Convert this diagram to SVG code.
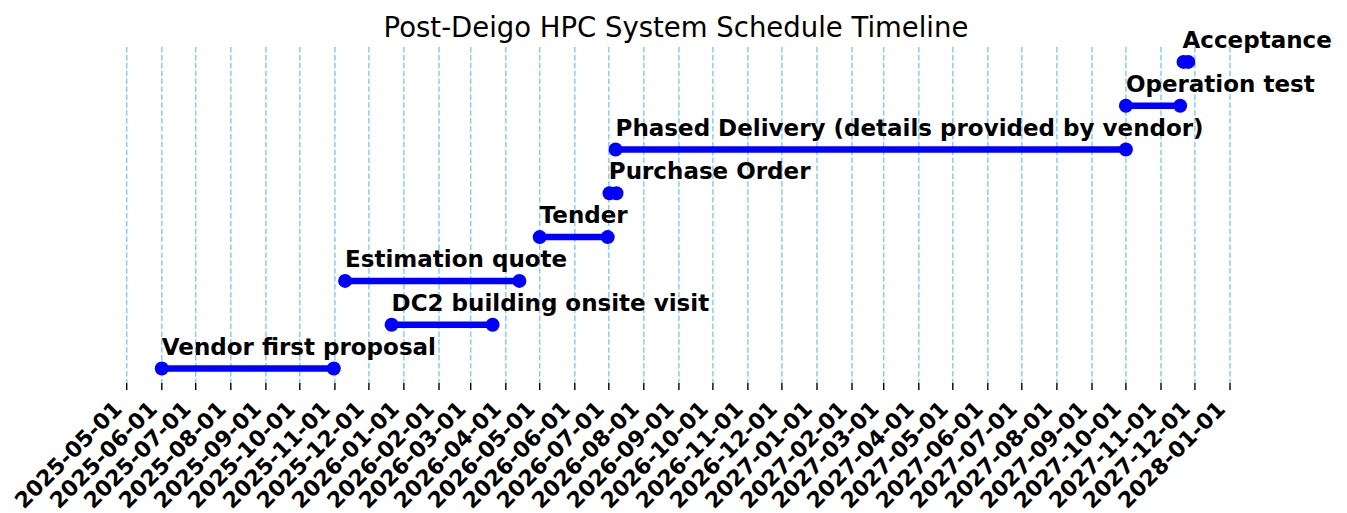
<svg xmlns="http://www.w3.org/2000/svg" width="1347" height="513" viewBox="0 0 1347 513">
  <defs>
    <style>
      .title { font-family: "DejaVu Sans", sans-serif; font-size: 27.5px; fill: #000; }
      .grid line { stroke: #87ceeb; stroke-width: 1.5; stroke-dasharray: 5.5 2.4; }
      .ticks line { stroke: #000; stroke-width: 1.4; }
      .ticklabel { font-family: "DejaVu Sans", sans-serif; font-weight: bold; font-size: 22px; fill: #000; text-anchor: end; }
      .bar { stroke: #0000ff; stroke-width: 6.5; stroke-linecap: butt; }
      .dot { fill: #0000ff; }
      .label { font-family: "DejaVu Sans", sans-serif; font-weight: bold; font-size: 23px; fill: #000; }
    </style>
  </defs>

  <rect width="1347" height="513" fill="#fff"/>

  <text class="title" x="676" y="37" text-anchor="middle">Post-Deigo HPC System Schedule Timeline</text>

  <!-- monthly grid lines -->
  <g class="grid">
    <line x1="126.7" y1="47" x2="126.7" y2="383"/>
    <line x1="161.8" y1="47" x2="161.8" y2="383"/>
    <line x1="195.7" y1="47" x2="195.7" y2="383"/>
    <line x1="230.8" y1="47" x2="230.8" y2="383"/>
    <line x1="265.9" y1="47" x2="265.9" y2="383"/>
    <line x1="299.8" y1="47" x2="299.8" y2="383"/>
    <line x1="334.9" y1="47" x2="334.9" y2="383"/>
    <line x1="368.9" y1="47" x2="368.9" y2="383"/>
    <line x1="403.9" y1="47" x2="403.9" y2="383"/>
    <line x1="439.0" y1="47" x2="439.0" y2="383"/>
    <line x1="470.7" y1="47" x2="470.7" y2="383"/>
    <line x1="505.8" y1="47" x2="505.8" y2="383"/>
    <line x1="539.7" y1="47" x2="539.7" y2="383"/>
    <line x1="574.8" y1="47" x2="574.8" y2="383"/>
    <line x1="608.8" y1="47" x2="608.8" y2="383"/>
    <line x1="643.8" y1="47" x2="643.8" y2="383"/>
    <line x1="678.9" y1="47" x2="678.9" y2="383"/>
    <line x1="712.9" y1="47" x2="712.9" y2="383"/>
    <line x1="747.9" y1="47" x2="747.9" y2="383"/>
    <line x1="781.9" y1="47" x2="781.9" y2="383"/>
    <line x1="817.0" y1="47" x2="817.0" y2="383"/>
    <line x1="852.0" y1="47" x2="852.0" y2="383"/>
    <line x1="883.7" y1="47" x2="883.7" y2="383"/>
    <line x1="918.8" y1="47" x2="918.8" y2="383"/>
    <line x1="952.8" y1="47" x2="952.8" y2="383"/>
    <line x1="987.8" y1="47" x2="987.8" y2="383"/>
    <line x1="1021.8" y1="47" x2="1021.8" y2="383"/>
    <line x1="1056.9" y1="47" x2="1056.9" y2="383"/>
    <line x1="1092.0" y1="47" x2="1092.0" y2="383"/>
    <line x1="1125.9" y1="47" x2="1125.9" y2="383"/>
    <line x1="1161.0" y1="47" x2="1161.0" y2="383"/>
    <line x1="1194.9" y1="47" x2="1194.9" y2="383"/>
    <line x1="1230.0" y1="47" x2="1230.0" y2="383"/>
  </g>

  <!-- x-axis ticks -->
  <g class="ticks">
    <line x1="126.7" y1="383" x2="126.7" y2="390"/>
    <line x1="161.8" y1="383" x2="161.8" y2="390"/>
    <line x1="195.7" y1="383" x2="195.7" y2="390"/>
    <line x1="230.8" y1="383" x2="230.8" y2="390"/>
    <line x1="265.9" y1="383" x2="265.9" y2="390"/>
    <line x1="299.8" y1="383" x2="299.8" y2="390"/>
    <line x1="334.9" y1="383" x2="334.9" y2="390"/>
    <line x1="368.9" y1="383" x2="368.9" y2="390"/>
    <line x1="403.9" y1="383" x2="403.9" y2="390"/>
    <line x1="439.0" y1="383" x2="439.0" y2="390"/>
    <line x1="470.7" y1="383" x2="470.7" y2="390"/>
    <line x1="505.8" y1="383" x2="505.8" y2="390"/>
    <line x1="539.7" y1="383" x2="539.7" y2="390"/>
    <line x1="574.8" y1="383" x2="574.8" y2="390"/>
    <line x1="608.8" y1="383" x2="608.8" y2="390"/>
    <line x1="643.8" y1="383" x2="643.8" y2="390"/>
    <line x1="678.9" y1="383" x2="678.9" y2="390"/>
    <line x1="712.9" y1="383" x2="712.9" y2="390"/>
    <line x1="747.9" y1="383" x2="747.9" y2="390"/>
    <line x1="781.9" y1="383" x2="781.9" y2="390"/>
    <line x1="817.0" y1="383" x2="817.0" y2="390"/>
    <line x1="852.0" y1="383" x2="852.0" y2="390"/>
    <line x1="883.7" y1="383" x2="883.7" y2="390"/>
    <line x1="918.8" y1="383" x2="918.8" y2="390"/>
    <line x1="952.8" y1="383" x2="952.8" y2="390"/>
    <line x1="987.8" y1="383" x2="987.8" y2="390"/>
    <line x1="1021.8" y1="383" x2="1021.8" y2="390"/>
    <line x1="1056.9" y1="383" x2="1056.9" y2="390"/>
    <line x1="1092.0" y1="383" x2="1092.0" y2="390"/>
    <line x1="1125.9" y1="383" x2="1125.9" y2="390"/>
    <line x1="1161.0" y1="383" x2="1161.0" y2="390"/>
    <line x1="1194.9" y1="383" x2="1194.9" y2="390"/>
    <line x1="1230.0" y1="383" x2="1230.0" y2="390"/>
  </g>

  <!-- rotated date labels (end of text sits just left of its tick) -->
  <g class="ticklabels">
    <text class="ticklabel" transform="translate(123.4,410.3) rotate(-45)">2025-05-01</text>
    <text class="ticklabel" transform="translate(158.5,410.3) rotate(-45)">2025-06-01</text>
    <text class="ticklabel" transform="translate(192.4,410.3) rotate(-45)">2025-07-01</text>
    <text class="ticklabel" transform="translate(227.5,410.3) rotate(-45)">2025-08-01</text>
    <text class="ticklabel" transform="translate(262.6,410.3) rotate(-45)">2025-09-01</text>
    <text class="ticklabel" transform="translate(296.5,410.3) rotate(-45)">2025-10-01</text>
    <text class="ticklabel" transform="translate(331.6,410.3) rotate(-45)">2025-11-01</text>
    <text class="ticklabel" transform="translate(365.6,410.3) rotate(-45)">2025-12-01</text>
    <text class="ticklabel" transform="translate(400.6,410.3) rotate(-45)">2026-01-01</text>
    <text class="ticklabel" transform="translate(435.7,410.3) rotate(-45)">2026-02-01</text>
    <text class="ticklabel" transform="translate(467.4,410.3) rotate(-45)">2026-03-01</text>
    <text class="ticklabel" transform="translate(502.5,410.3) rotate(-45)">2026-04-01</text>
    <text class="ticklabel" transform="translate(536.4,410.3) rotate(-45)">2026-05-01</text>
    <text class="ticklabel" transform="translate(571.5,410.3) rotate(-45)">2026-06-01</text>
    <text class="ticklabel" transform="translate(605.5,410.3) rotate(-45)">2026-07-01</text>
    <text class="ticklabel" transform="translate(640.5,410.3) rotate(-45)">2026-08-01</text>
    <text class="ticklabel" transform="translate(675.6,410.3) rotate(-45)">2026-09-01</text>
    <text class="ticklabel" transform="translate(709.6,410.3) rotate(-45)">2026-10-01</text>
    <text class="ticklabel" transform="translate(744.6,410.3) rotate(-45)">2026-11-01</text>
    <text class="ticklabel" transform="translate(778.6,410.3) rotate(-45)">2026-12-01</text>
    <text class="ticklabel" transform="translate(813.7,410.3) rotate(-45)">2027-01-01</text>
    <text class="ticklabel" transform="translate(848.7,410.3) rotate(-45)">2027-02-01</text>
    <text class="ticklabel" transform="translate(880.4,410.3) rotate(-45)">2027-03-01</text>
    <text class="ticklabel" transform="translate(915.5,410.3) rotate(-45)">2027-04-01</text>
    <text class="ticklabel" transform="translate(949.5,410.3) rotate(-45)">2027-05-01</text>
    <text class="ticklabel" transform="translate(984.5,410.3) rotate(-45)">2027-06-01</text>
    <text class="ticklabel" transform="translate(1018.5,410.3) rotate(-45)">2027-07-01</text>
    <text class="ticklabel" transform="translate(1053.6,410.3) rotate(-45)">2027-08-01</text>
    <text class="ticklabel" transform="translate(1088.7,410.3) rotate(-45)">2027-09-01</text>
    <text class="ticklabel" transform="translate(1122.6,410.3) rotate(-45)">2027-10-01</text>
    <text class="ticklabel" transform="translate(1157.7,410.3) rotate(-45)">2027-11-01</text>
    <text class="ticklabel" transform="translate(1191.6,410.3) rotate(-45)">2027-12-01</text>
    <text class="ticklabel" transform="translate(1226.7,410.3) rotate(-45)">2028-01-01</text>
  </g>

  <!-- task bars -->
  <g id="connectors">
    <line class="bar" x1="161.8" y1="368.5" x2="333.8" y2="368.5"/>
    <line class="bar" x1="391.6" y1="324.7" x2="492.6" y2="324.7"/>
    <line class="bar" x1="345.1" y1="280.9" x2="519.4" y2="280.9"/>
    <line class="bar" x1="539.7" y1="237.1" x2="607.7" y2="237.1"/>
    <line class="bar" x1="609.5" y1="193.3" x2="616.5" y2="193.3"/>
    <line class="bar" x1="615.6" y1="149.5" x2="1125.9" y2="149.5"/>
    <line class="bar" x1="1125.9" y1="105.7" x2="1180.2" y2="105.7"/>
    <line class="bar" x1="1183.5" y1="61.9" x2="1188.3" y2="61.9"/>
  </g>

  <g id="task-vendor-proposal">
    <circle class="dot" cx="161.8" cy="368.5" r="7"/>
    <circle class="dot" cx="333.8" cy="368.5" r="7"/>
    <text class="label" x="161.8" y="354.5">Vendor first proposal</text>
  </g>
  <g id="task-dc2-visit">
    <circle class="dot" cx="391.6" cy="324.7" r="7"/>
    <circle class="dot" cx="492.6" cy="324.7" r="7"/>
    <text class="label" x="391.6" y="310.7">DC2 building onsite visit</text>
  </g>
  <g id="task-estimation-quote">
    <circle class="dot" cx="345.1" cy="280.9" r="7"/>
    <circle class="dot" cx="519.4" cy="280.9" r="7"/>
    <text class="label" x="345.1" y="266.9">Estimation quote</text>
  </g>
  <g id="task-tender">
    <circle class="dot" cx="539.7" cy="237.1" r="7"/>
    <circle class="dot" cx="607.7" cy="237.1" r="7"/>
    <text class="label" x="539.7" y="223.1">Tender</text>
  </g>
  <g id="task-purchase-order">
    <circle class="dot" cx="609.5" cy="193.3" r="7"/>
    <circle class="dot" cx="616.5" cy="193.3" r="7"/>
    <text class="label" x="608.8" y="179.3">Purchase Order</text>
  </g>
  <g id="task-phased-delivery">
    <circle class="dot" cx="615.6" cy="149.5" r="7"/>
    <circle class="dot" cx="1125.9" cy="149.5" r="7"/>
    <text class="label" x="615.6" y="135.5">Phased Delivery (details provided by vendor)</text>
  </g>
  <g id="task-operation-test">
    <circle class="dot" cx="1125.9" cy="105.7" r="7"/>
    <circle class="dot" cx="1180.2" cy="105.7" r="7"/>
    <text class="label" x="1125.9" y="91.7">Operation test</text>
  </g>
  <g id="task-acceptance">
    <circle class="dot" cx="1183.5" cy="61.9" r="7"/>
    <circle class="dot" cx="1188.3" cy="61.9" r="7"/>
    <text class="label" x="1182.5" y="47.9">Acceptance</text>
  </g>
</svg>
